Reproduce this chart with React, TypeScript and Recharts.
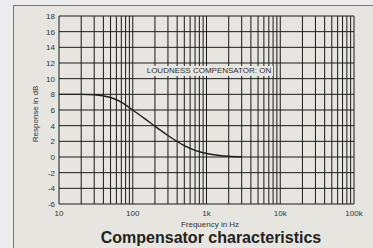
import { LineChart, Line, XAxis, YAxis, CartesianGrid } from "recharts";

// frequency response of the compensator (Hz -> dB)
const freqs = [10, 20, 30, 40, 50, 70, 100, 150, 200, 300, 400, 500, 700, 1000, 1500, 2000, 3000];
const gains = [8, 8, 7.95, 7.8, 7.6, 7.0, 6.0, 4.8, 3.93, 2.75, 1.98, 1.45, 0.85, 0.45, 0.2, 0.1, 0.03];

// grid positions: every 1-9 step in each decade
const gridFreqs = [
  10, 20, 30, 40, 50, 60, 70, 80, 90,
  100, 200, 300, 400, 500, 600, 700, 800, 900,
  1000, 2000, 3000, 4000, 5000, 6000, 7000, 8000, 9000,
  10000, 20000, 30000, 40000, 50000, 60000, 70000, 80000, 90000,
  100000,
];
const decadeLabels: Record<number, string> = { 10: "10", 100: "100", 1000: "1k", 10000: "10k", 100000: "100k" };
const yTicks = [-6, -4, -2, 0, 2, 4, 6, 8, 10, 12, 14, 16, 18];

const data = freqs.map((f, i) => ({ f, db: gains[i] }));

const font = "'Liberation Sans', Arial, sans-serif";

export default function App() {
  return (
    <div style={{ position: "fixed", left: 0, top: 0, width: 373, height: 248, background: "#ececee", overflow: "hidden", fontFamily: font }}>
      <div style={{ position: "absolute", left: 13, top: 5, width: 400, height: 300, background: "#e6e5e0", borderLeft: "1px solid #777", borderTop: "1px solid #777" }} />
      <div style={{ position: "absolute", left: 0, top: 0 }}>
        <LineChart width={373} height={248} data={data} margin={{ top: 16, right: 19, bottom: 24, left: 0 }}>
          <CartesianGrid stroke="#1a1a1a" strokeWidth={1} />
          <XAxis
            dataKey="f"
            type="number"
            scale="log"
            domain={[10, 100000]}
            ticks={gridFreqs}
            interval={0}
            tickFormatter={(v: number) => decadeLabels[v] ?? ""}
            axisLine={false}
            tickLine={false}
            tickSize={0}
            tickMargin={6}
            height={20}
            tick={{ fontSize: 8, fill: "#333", fontFamily: font }}
          />
          <YAxis
            type="number"
            domain={[-6, 18]}
            ticks={yTicks}
            interval={0}
            width={59}
            axisLine={false}
            tickLine={false}
            tickSize={0}
            tickMargin={4}
            tick={{ fontSize: 8, fill: "#333", fontFamily: font }}
          />
          <Line type="monotone" dataKey="db" stroke="#1e1e1e" strokeWidth={1.4} dot={false} isAnimationActive={false} />
        </LineChart>
      </div>
      <div style={{ position: "absolute", left: 145, top: 66, width: 128, height: 10, background: "#e6e5e0", fontSize: 8, color: "#333", lineHeight: "10px", textAlign: "center", whiteSpace: "nowrap" }}>
        LOUDNESS COMPENSATOR: ON
      </div>
      <div style={{ position: "absolute", left: 35, top: 114, transform: "translate(-50%, -50%) rotate(-90deg)", fontSize: 8, color: "#333", whiteSpace: "nowrap" }}>
        Response in dB
      </div>
      <div style={{ position: "absolute", left: 210, top: 224, transform: "translate(-50%, -50%)", fontSize: 8, color: "#333", whiteSpace: "nowrap" }}>
        Frequency in Hz
      </div>
      <div style={{ position: "absolute", left: 211, top: 238, transform: "translate(-50%, -50%)", fontSize: 16, fontWeight: "bold", color: "#222", whiteSpace: "nowrap" }}>
        Compensator characteristics
      </div>
    </div>
  );
}
